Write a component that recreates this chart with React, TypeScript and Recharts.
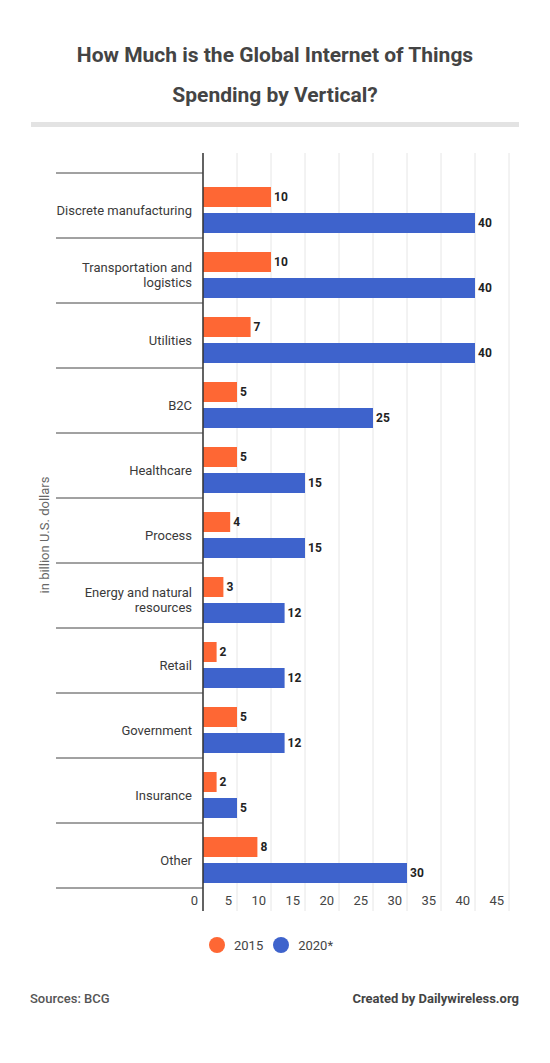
import React from "react";
import { BarChart, Bar, XAxis, YAxis, CartesianGrid, LabelList } from "recharts";

const categories = [
  "Discrete manufacturing",
  "Transportation and logistics",
  "Utilities",
  "B2C",
  "Healthcare",
  "Process",
  "Energy and natural resources",
  "Retail",
  "Government",
  "Insurance",
  "Other",
];
const spending2015 = [10, 10, 7, 5, 5, 4, 3, 2, 5, 2, 8];
const spending2020 = [40, 40, 40, 25, 15, 15, 12, 12, 12, 5, 30];
const xTicks = [0, 5, 10, 15, 20, 25, 30, 35, 40, 45];
const wrapped: Record<string, string[]> = {
  "Transportation and logistics": ["Transportation and", "logistics"],
  "Energy and natural resources": ["Energy and natural", "resources"],
};

const ORANGE = "#fe6734";
const BLUE = "#3e63cc";
const FONT = "Roboto, 'Noto Sans', sans-serif";

const data = categories.map((name, i) => ({
  name,
  y2015: spending2015[i],
  y2020: spending2020[i],
}));

// plot area: top 153, bottom 911, padding 24/19 -> 65px per category
const PLOT_TOP = 153;
const PLOT_BOTTOM = 911;
const PAD_TOP = 24;
const PAD_BOTTOM = 19;
const X_AXIS_H = 20;
const CHART_H = 950;
const BAND = (PLOT_BOTTOM - PLOT_TOP - PAD_TOP - PAD_BOTTOM) / categories.length;

function CategoryTick(props: any) {
  const { x, y, payload, index } = props;
  const lines = wrapped[payload.value] || [payload.value];
  const sepY = y - BAND / 2 - 4;
  return (
    <g>
      <line x1={56} x2={x + 11} y1={sepY} y2={sepY} stroke="#444" strokeWidth={1} />
      {index === categories.length - 1 ? (
        <line x1={56} x2={x + 11} y1={sepY + BAND} y2={sepY + BAND} stroke="#444" strokeWidth={1} />
      ) : null}
      <text
        x={x}
        y={y - ((lines.length - 1) * 15) / 2}
        textAnchor="end"
        dominantBaseline="central"
        fontSize={13}
        fill="#3a3a3a"
        fontFamily={FONT}
      >
        {lines.map((l, i) => (
          <tspan key={i} x={x} dy={i === 0 ? 0 : 15}>
            {l}
          </tspan>
        ))}
      </text>
    </g>
  );
}

// value ticks sit inside the plot, just left of each grid line
function ValueTick(props: any) {
  const { x, y, payload } = props;
  return (
    <text x={x - 5} y={y - 6} textAnchor="end" fontSize={13} fill="#444" fontFamily={FONT}>
      {payload.value}
    </text>
  );
}

const valueLabelStyle = { fontSize: 12, fontWeight: 700, fill: "#222", fontFamily: FONT };

export default function App() {
  return (
    <div
      style={{
        position: "absolute",
        left: 0,
        top: 0,
        width: 550,
        height: 1063,
        background: "#fff",
        fontFamily: FONT,
        overflow: "hidden",
      }}
    >
      <div
        style={{
          position: "absolute",
          top: 35,
          left: 0,
          width: 550,
          textAlign: "center",
          fontSize: 21,
          fontWeight: 700,
          lineHeight: "40px",
          color: "#444",
        }}
      >
        How Much is the Global Internet of Things
        <br />
        Spending by Vertical?
      </div>
      <div style={{ position: "absolute", top: 122, left: 31, width: 488, height: 5, background: "#e3e3e3" }} />

      <div style={{ position: "absolute", top: 0, left: 0 }}>
        <BarChart
          width={550}
          height={CHART_H}
          data={data}
          layout="vertical"
          margin={{ top: PLOT_TOP, right: 41, bottom: CHART_H - PLOT_BOTTOM - X_AXIS_H, left: 0 }}
          barSize={20}
          barGap={6}
        >
          <CartesianGrid horizontal={false} vertical stroke="#e6e6e6" strokeWidth={1} />
          <XAxis
            type="number"
            domain={[0, 45]}
            ticks={xTicks}
            height={X_AXIS_H}
            axisLine={false}
            tickLine={false}
            tickSize={0}
            tickMargin={0}
            tick={<ValueTick />}
            interval={0}
          />
          <YAxis
            type="category"
            dataKey="name"
            width={203}
            padding={{ top: PAD_TOP, bottom: PAD_BOTTOM }}
            axisLine={{ stroke: "#333", strokeWidth: 1.5 }}
            tickLine={false}
            tickSize={0}
            tickMargin={11}
            tick={<CategoryTick />}
            interval={0}
          />
          <Bar dataKey="y2015" name="2015" fill={ORANGE} isAnimationActive={false}>
            <LabelList dataKey="y2015" position="right" offset={3} style={valueLabelStyle} />
          </Bar>
          <Bar dataKey="y2020" name="2020*" fill={BLUE} isAnimationActive={false}>
            <LabelList dataKey="y2020" position="right" offset={3} style={valueLabelStyle} />
          </Bar>
        </BarChart>
      </div>

      <div
        style={{
          position: "absolute",
          left: 44,
          top: (PLOT_TOP + PLOT_BOTTOM) / 2 + 3,
          transform: "translate(-50%, -50%) rotate(-90deg)",
          whiteSpace: "nowrap",
          fontSize: 13,
          color: "#666",
        }}
      >
        in billion U.S. dollars
      </div>

      <div
        style={{
          position: "absolute",
          top: 937,
          left: -4,
          width: 550,
          display: "flex",
          justifyContent: "center",
          alignItems: "center",
          fontSize: 13,
          color: "#444",
        }}
      >
        {[
          { label: "2015", color: ORANGE },
          { label: "2020*", color: BLUE },
        ].map((item, i) => (
          <div key={item.label} style={{ display: "flex", alignItems: "center", marginLeft: i === 0 ? 0 : 10 }}>
            <span
              style={{ width: 16, height: 16, borderRadius: 8, background: item.color, display: "inline-block", marginRight: 9 }}
            />
            <span>{item.label}</span>
          </div>
        ))}
      </div>

      <div style={{ position: "absolute", top: 991, left: 30, fontSize: 13, fontWeight: 500, color: "#555" }}>
        Sources: BCG
      </div>
      <div style={{ position: "absolute", top: 991, right: 31, fontSize: 13, fontWeight: 700, color: "#444" }}>
        Created by Dailywireless.org
      </div>
    </div>
  );
}
